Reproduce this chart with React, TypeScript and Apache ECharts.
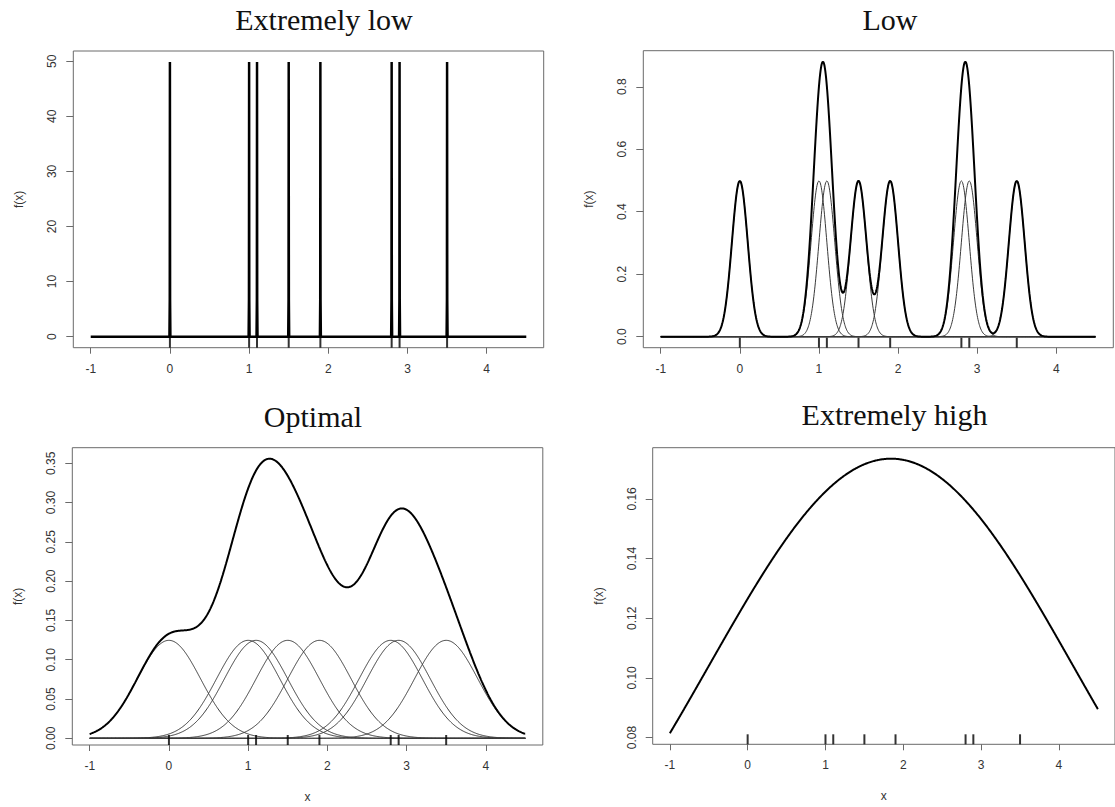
import React, { useEffect, useRef } from "react";
import * as echarts from "echarts";

// ---- data ----
const samplePoints = [0, 1.0, 1.1, 1.5, 1.9, 2.8, 2.9, 3.5];
const bandwidths = [0.001, 0.1, 0.4, 2.0];
const panelTitles = ["Extremely low", "Low", "Optimal", "Extremely high"];
const showKernels = [false, true, true, false];
const xRange = [-1, 4.5];
const xTicks = [-1, 0, 1, 2, 3, 4];
const yTicks1 = [0, 10, 20, 30, 40, 50];
const yTicks2 = [0, 0.2, 0.4, 0.6, 0.8];
const yTicks3 = [0, 0.05, 0.1, 0.15, 0.2, 0.25, 0.3, 0.35];
const yTicks4 = [0.08, 0.1, 0.12, 0.14, 0.16];
const yTickDecimals = [0, 1, 2, 2];

// ---- layout (pixels) ----
const panels = [
  { left: 73.3, top: 51, width: 470.4, height: 296.7, titleX: 324, titleY: 19.5, xName: false },
  { left: 643.3, top: 50.7, width: 470, height: 297, titleX: 890, titleY: 19.5, xName: false },
  { left: 72.3, top: 447.7, width: 470.5, height: 297.3, titleX: 313, titleY: 416, xName: true },
  { left: 652.7, top: 447.7, width: 470, height: 296.6, titleX: 894.5, titleY: 414, xName: true },
];
const yTicksAll = [yTicks1, yTicks2, yTicks3, yTicks4];

const SQRT2PI = Math.sqrt(2 * Math.PI);
const kernel = (x: number, c: number, h: number, n: number) =>
  Math.exp(-((x - c) * (x - c)) / (2 * h * h)) / (n * h * SQRT2PI);

function gridFor(h: number): number[] {
  const xs: number[] = [];
  if (h < 0.01) {
    xs.push(xRange[0]);
    samplePoints.forEach((p) => {
      xs.push(p - 0.006, p - 0.002, p, p + 0.002, p + 0.006);
    });
    xs.push(xRange[1]);
    return xs;
  }
  const step = 0.005;
  const n = Math.round((xRange[1] - xRange[0]) / step);
  for (let i = 0; i <= n; i++) xs.push(xRange[0] + i * step);
  return xs;
}

function buildOption() {
  const grid: any[] = [];
  const xAxis: any[] = [];
  const yAxis: any[] = [];
  const series: any[] = [];
  const graphic: any[] = [];
  const n = samplePoints.length;
  const axisFont = "'Liberation Sans', Arial, sans-serif";

  panels.forEach((p, i) => {
    const h = bandwidths[i];
    const xs = gridFor(h);
    const kde = xs.map((x) => [x, samplePoints.reduce((s, c) => s + kernel(x, c, h, n), 0)]);
    const ys = kde.map((d) => d[1]);
    const ymin = Math.min(...ys);
    const ymax = Math.max(...ys);
    const ylo = ymin - 0.04 * (ymax - ymin);
    const yhi = ymax + 0.04 * (ymax - ymin);
    const xlo = xRange[0] - 0.04 * (xRange[1] - xRange[0]);
    const xhi = xRange[1] + 0.04 * (xRange[1] - xRange[0]);

    grid.push({
      left: p.left,
      top: p.top,
      width: p.width,
      height: p.height,
      show: true,
      borderColor: "#6a6a6a",
      borderWidth: 1,
      backgroundColor: "transparent",
    });
    xAxis.push({
      gridIndex: i,
      type: "value",
      position: "bottom",
      min: xlo,
      max: xhi,
      axisLine: { show: false, onZero: false },
      splitLine: { show: false },
      axisTick: { show: true, customValues: xTicks, length: 6, lineStyle: { color: "#6a6a6a" } },
      axisLabel: {
        customValues: xTicks,
        margin: 15,
        color: "#333",
        fontFamily: axisFont,
        fontSize: 12,
        formatter: (v: number) => String(Math.round(v)),
      },
      name: p.xName ? "x" : "",
      nameLocation: "middle",
      nameGap: 46,
      nameTextStyle: { color: "#333", fontFamily: axisFont, fontSize: 12 },
    });
    const dec = yTickDecimals[i];
    yAxis.push({
      gridIndex: i,
      type: "value",
      position: "left",
      min: ylo,
      max: yhi,
      axisLine: { show: false, onZero: false },
      splitLine: { show: false },
      axisTick: { show: true, customValues: yTicksAll[i], length: 7, lineStyle: { color: "#6a6a6a" } },
      axisLabel: {
        customValues: yTicksAll[i],
        rotate: 90,
        margin: 15,
        color: "#333",
        fontFamily: axisFont,
        fontSize: 12,
        formatter: (v: number) => v.toFixed(dec),
      },
      name: "f(x)",
      nameLocation: "middle",
      nameRotate: 90,
      nameGap: 48,
      nameTextStyle: { color: "#333", fontFamily: axisFont, fontSize: 12 },
    });

    if (showKernels[i]) {
      samplePoints.forEach((c) => {
        series.push({
          type: "line",
          xAxisIndex: i,
          yAxisIndex: i,
          data: xs.map((x) => [x, kernel(x, c, h, n)]),
          showSymbol: false,
          silent: true,
          lineStyle: { color: "#3a3a3a", width: 1 },
          z: 2,
        });
      });
    }
    series.push({
      type: "line",
      xAxisIndex: i,
      yAxisIndex: i,
      data: kde,
      showSymbol: false,
      silent: true,
      lineStyle: { color: "#000", width: h < 0.01 ? 2.5 : 2 },
      z: 3,
    });
    series.push({
      type: "scatter",
      xAxisIndex: i,
      yAxisIndex: i,
      data: samplePoints.map((x) => [x, ylo]),
      symbol: "rect",
      symbolSize: [2, 10],
      symbolOffset: [0, -5],
      itemStyle: { color: "#000" },
      silent: true,
      clip: false,
      z: 4,
    });

    graphic.push({
      type: "text",
      x: p.titleX,
      y: p.titleY,
      style: {
        text: panelTitles[i],
        font: "30px 'Liberation Serif', 'Times New Roman', serif",
        fill: "#111",
        textAlign: "center",
        textVerticalAlign: "middle",
      },
    });
  });

  return { animation: false, backgroundColor: "#fff", grid, xAxis, yAxis, series, graphic };
}

export default function App() {
  const ref = useRef<HTMLDivElement>(null);
  useEffect(() => {
    if (!ref.current) return;
    const chart = echarts.init(ref.current, null, { renderer: "svg" });
    chart.setOption(buildOption() as any);
    return () => chart.dispose();
  }, []);
  return (
    <div
      ref={ref}
      style={{ position: "absolute", left: 0, top: 0, width: 1115, height: 807, background: "#fff" }}
    />
  );
}
